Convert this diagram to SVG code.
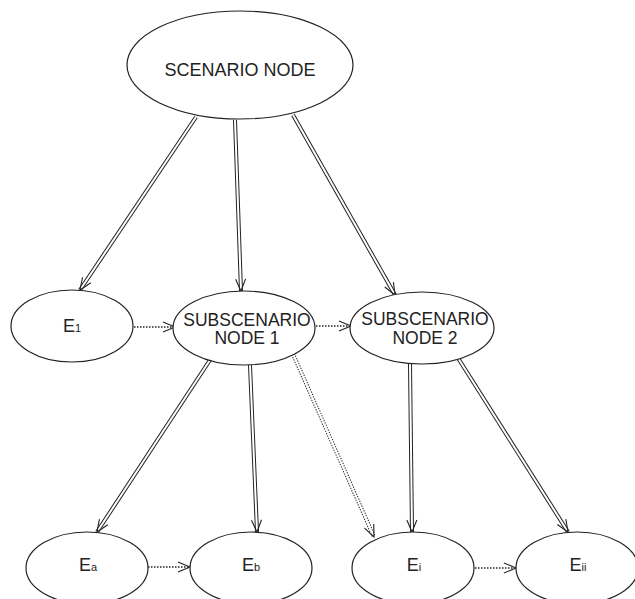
<svg xmlns="http://www.w3.org/2000/svg" width="635" height="599" viewBox="0 0 635 599">
<defs>
<style>
.node{fill:#fff;stroke:#222;stroke-width:1.2}
.lbl{font-family:"Liberation Sans",Arial,sans-serif;font-size:18px;fill:#222;text-anchor:middle}
.two{font-size:17.5px}
.sub{font-size:11px}
.outer{fill:none;stroke:#222;stroke-width:4}
.inner{fill:none;stroke:#fff;stroke-width:2;marker-end:url(#ah)}
.dots2{fill:none;stroke:#222;stroke-width:4;stroke-dasharray:1.3 1.3}
.dot{fill:none;stroke:#222;stroke-width:1.4;stroke-dasharray:1.5 1.5;marker-end:url(#ah)}
</style>
<marker id="ah" markerUnits="userSpaceOnUse" markerWidth="16" markerHeight="14" refX="14" refY="7" orient="auto" overflow="visible">
<path d="M2,2 L14,7 L2,12" fill="none" stroke="#222" stroke-width="1.1"/>
</marker>
</defs>
<rect width="635" height="599" fill="#fff"/>
<g id="connectors">
<path class="outer" d="M196,117 L80,290"/><path class="inner" d="M196,117 L80,290"/>
<path class="outer" d="M235,120 L241,291"/><path class="inner" d="M235,120 L241,291"/>
<path class="outer" d="M293,115 L395,295"/><path class="inner" d="M293,115 L395,295"/>
<path class="outer" d="M210,360 L97,532"/><path class="inner" d="M210,360 L97,532"/>
<path class="outer" d="M250,365 L257,532"/><path class="inner" d="M250,365 L257,532"/>
<path class="dots2" d="M293,354 L374,537"/><path class="inner" d="M293,354 L374,537"/>
<path class="outer" d="M410,364 L412,532"/><path class="inner" d="M410,364 L412,532"/>
<path class="outer" d="M458,358 L568,532"/><path class="inner" d="M458,358 L568,532"/>
<path class="dot" d="M134,327 L175,327"/>
<path class="dot" d="M316,326 L351,326"/>
<path class="dot" d="M148,567 L190,567"/>
<path class="dot" d="M475,568 L516,568"/>
</g>
<g id="scenario">
<ellipse class="node" cx="240" cy="65" rx="113" ry="54"/>
<text class="lbl" x="240" y="76">SCENARIO NODE</text>
</g>
<g id="e1">
<ellipse class="node" cx="72" cy="326" rx="61" ry="36"/>
<text class="lbl" x="72" y="332">E<tspan class="sub">1</tspan></text>
</g>
<g id="sub1">
<ellipse class="node" cx="244" cy="328" rx="71" ry="37"/>
<text class="lbl two" x="247" y="326">SUBSCENARIO</text>
<text class="lbl two" x="247" y="344">NODE 1</text>
</g>
<g id="sub2">
<ellipse class="node" cx="422" cy="328" rx="72" ry="36"/>
<text class="lbl two" x="425" y="325">SUBSCENARIO</text>
<text class="lbl two" x="425" y="344">NODE 2</text>
</g>
<g id="ea">
<ellipse class="node" cx="87" cy="568" rx="61" ry="36"/>
<text class="lbl" x="88" y="571">E<tspan class="sub">a</tspan></text>
</g>
<g id="eb">
<ellipse class="node" cx="251" cy="568" rx="61" ry="36"/>
<text class="lbl" x="251" y="571">E<tspan class="sub">b</tspan></text>
</g>
<g id="ei">
<ellipse class="node" cx="413" cy="568" rx="61" ry="36"/>
<text class="lbl" x="414" y="571">E<tspan class="sub">i</tspan></text>
</g>
<g id="eii">
<ellipse class="node" cx="577" cy="568" rx="61" ry="36"/>
<text class="lbl" x="578" y="571">E<tspan class="sub">ii</tspan></text>
</g>
</svg>
